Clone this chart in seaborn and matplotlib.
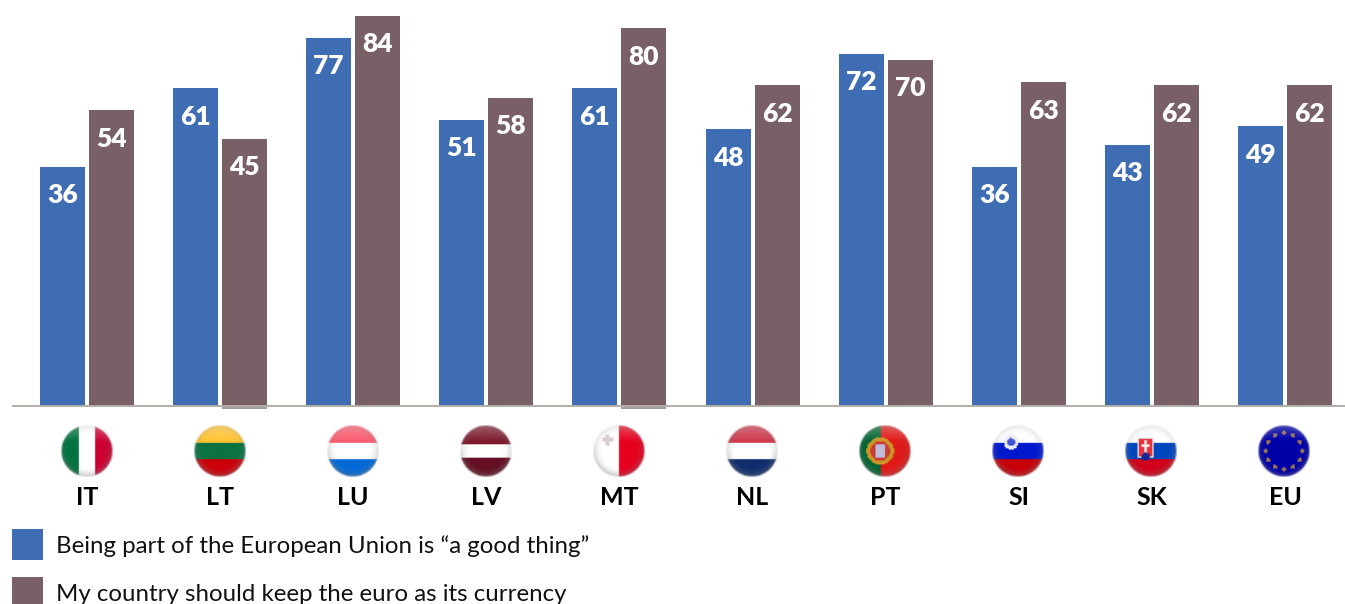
import numpy as np
import pandas as pd
import matplotlib
matplotlib.use("Agg")
import matplotlib.pyplot as plt
import seaborn as sns

countries = ["IT", "LT", "LU", "LV", "MT", "NL", "PT", "SI", "SK", "EU"]
good_thing = [36, 61, 77, 51, 61, 48, 72, 36, 43, 49]
keep_euro = [54, 45, 84, 58, 80, 62, 70, 63, 62, 62]
series_names = ["Being part of the European Union is \u201ca good thing\u201d",
                "My country should keep the euro as its currency"]
series_colors = ["#3F6DB3", "#786066"]
AXIS_FLOOR = 40  # bars in the source rise from a truncated base at -40

flag_styles = {
    "IT": ("v", [0.34, 0.66], [(0, 115, 65), (255, 255, 255), (205, 0, 50)]),
    "LT": ("h", [0.34, 0.66], [(255, 195, 50), (10, 115, 65), (205, 0, 10)]),
    "LU": ("h", [0.34, 0.66], [(250, 90, 110), (255, 255, 255), (0, 105, 215)]),
    "LV": ("h", [0.38, 0.63], [(125, 25, 45), (255, 255, 255), (100, 15, 35)]),
    "MT": ("v", [0.5, 0.5], [(255, 255, 255), (255, 255, 255), (230, 0, 30)]),
    "NL": ("h", [0.34, 0.66], [(205, 55, 75), (255, 255, 255), (15, 45, 110)]),
    "PT": ("v", [0.42, 0.42], [(0, 100, 50), (0, 100, 50), (225, 25, 25)]),
    "SI": ("h", [0.34, 0.66], [(255, 255, 255), (0, 25, 205), (200, 0, 10)]),
    "SK": ("h", [0.34, 0.66], [(255, 255, 255), (0, 70, 190), (210, 0, 25)]),
    "EU": ("h", [0.5, 0.5], [(0, 0, 165), (0, 0, 165), (0, 0, 165)]),
}


def flag_image(code, n=40):
    kind, cuts, cols = flag_styles[code]
    v, u = np.mgrid[-1:1:n * 1j, -1:1:n * 1j]
    coord = (u if kind == "v" else v) / 2 + 0.5
    rgb = np.zeros((n, n, 3))
    rgb[coord < cuts[0]] = cols[0]
    rgb[(coord >= cuts[0]) & (coord < cuts[1])] = cols[1]
    rgb[coord >= cuts[1]] = cols[2]

    def disc(cu, cv, r, colour):
        rgb[(u - cu) ** 2 + (v - cv) ** 2 < r ** 2] = colour

    if code == "MT":
        m = (np.abs(u + 0.42) < 0.08) & (np.abs(v + 0.42) < 0.22)
        m |= (np.abs(v + 0.42) < 0.08) & (np.abs(u + 0.42) < 0.22)
        rgb[m] = (215, 205, 208)
    elif code == "PT":
        disc(-0.18, 0.0, 0.52, (205, 150, 40))
        disc(-0.18, 0.0, 0.38, (200, 60, 50))
        rgb[(np.abs(u + 0.18) < 0.2) & (np.abs(v) < 0.24)] = (190, 190, 220)
    elif code == "SI":
        disc(-0.26, -0.34, 0.28, (235, 235, 255))
        disc(-0.26, -0.34, 0.15, (60, 80, 210))
    elif code == "SK":
        rgb[(np.abs(u + 0.2) < 0.32) & (v > -0.52) & (v < 0.28)] = (235, 235, 240)
        rgb[(np.abs(u + 0.2) < 0.26) & (v > -0.46) & (v < 0.2)] = (230, 50, 60)
        rgb[(np.abs(u + 0.2) < 0.05) & (v > -0.4) & (v < 0.1)] = (255, 235, 235)
        rgb[(np.abs(v + 0.2) < 0.05) & (np.abs(u + 0.2) < 0.17)] = (255, 235, 235)
        disc(-0.2, 0.22, 0.16, (20, 40, 150))
    elif code == "EU":
        for k in range(12):
            a = np.pi * k / 6
            disc(0.7 * np.sin(a), -0.7 * np.cos(a), 0.08, (215, 170, 40))

    rad = np.sqrt(u ** 2 + v ** 2)
    # glossy shading: light from the top, grey rim all round, darker at the bottom
    gloss = np.clip((-0.35 - v) / 0.65, 0, 1)[..., None] * 0.28
    rgb = rgb * (1 - gloss) + 255 * gloss
    rim = (np.clip((rad - 0.6) / 0.4, 0, 1) ** 2)[..., None]
    low = np.clip((v + 0.4) / 1.0, 0, 1)[..., None]
    k = rim * (0.22 + 0.3 * low)
    rgb = rgb * (1 - k) + 125 * k
    if code == "EU":
        glow = 0.3 * (1 - rim)
        rgb = rgb * (1 - glow) + np.array([0, 0, 175]) * glow
    alpha = np.clip((1 - rad) * n / 2.5, 0, 1)
    return np.dstack([rgb / 255, alpha])


plt.rcParams["font.family"] = ["Lato", "DejaVu Sans"]
sns.set_theme(style="white")
plt.rcParams["font.family"] = ["Lato", "DejaVu Sans"]

W, H = 1345, 604
STEP = 133.11
fig = plt.figure(figsize=(W / 100, H / 100), dpi=100)
ax = fig.add_axes([13 / W, 1 - 406 / H, (W - 13) / W, 406 / H])

df = pd.DataFrame({
    "country": countries * 2,
    "series": [series_names[0]] * len(countries) + [series_names[1]] * len(countries),
    "value": good_thing + keep_euro,
})
df["height"] = df["value"] + AXIS_FLOOR

sns.barplot(data=df, x="country", y="height", hue="series", hue_order=series_names,
            palette=series_colors, width=0.736, gap=0.082, saturation=1,
            errorbar=None, legend=False, linewidth=0, ax=ax)

ax.set_xlim(-74 / STEP, (W - 87) / STEP)
ax.set_ylim(0, 406 / 3.146)
ax.set_xlabel("")
ax.set_ylabel("")
ax.set_yticks([])
for side in ("top", "right", "left"):
    ax.spines[side].set_visible(False)
ax.spines["bottom"].set_color("#B3AEA8")
ax.spines["bottom"].set_linewidth(1.4)
ax.tick_params(axis="x", length=0, pad=57.5)
ax.set_xticks(range(len(countries)), countries, fontsize=18, fontweight="bold", color="black")

for cont, vals in zip(ax.containers, [good_thing, keep_euro]):
    ax.bar_label(cont, labels=[str(v) for v in vals], padding=-29.2,
                 color="white", fontsize=19, fontweight="heavy")

# flag badges in a pixel-space overlay
ov = fig.add_axes([0, 0, 1, 1], facecolor="none")
ov.set_xlim(0, W)
ov.set_ylim(H, 0)
ov.axis("off")
for i, code in enumerate(countries):
    cx, cy, r = 86.5 + STEP * i, 451.5, 27
    ov.imshow(flag_image(code), extent=(cx - r, cx + r, cy + r, cy - r),
              interpolation="bilinear", aspect="auto", zorder=2)
ov.set_xlim(0, W)
ov.set_ylim(H, 0)
# slightly lower baseline segment under the LT and MT brown bars
for i in (1, 4):
    ov.plot([222 + 399 * (i == 4), 267 + 399 * (i == 4)], [407.5, 407.5],
            color="#8F8A86", lw=1.2, solid_capstyle="butt")

handles = [plt.Rectangle((0, 0), 1, 1, color=c, lw=0) for c in series_colors]
fig.legend(handles, series_names, loc="upper left", bbox_to_anchor=(5 / W, 1 - 522 / H),
           bbox_transform=fig.transFigure, frameon=False, fontsize=17.3,
           handlelength=1.29, handleheight=1.61, handletextpad=0.54, labelspacing=0.71,
           labelcolor="#111111", borderpad=0.3, borderaxespad=0)

fig.savefig("out.png", dpi=100)
